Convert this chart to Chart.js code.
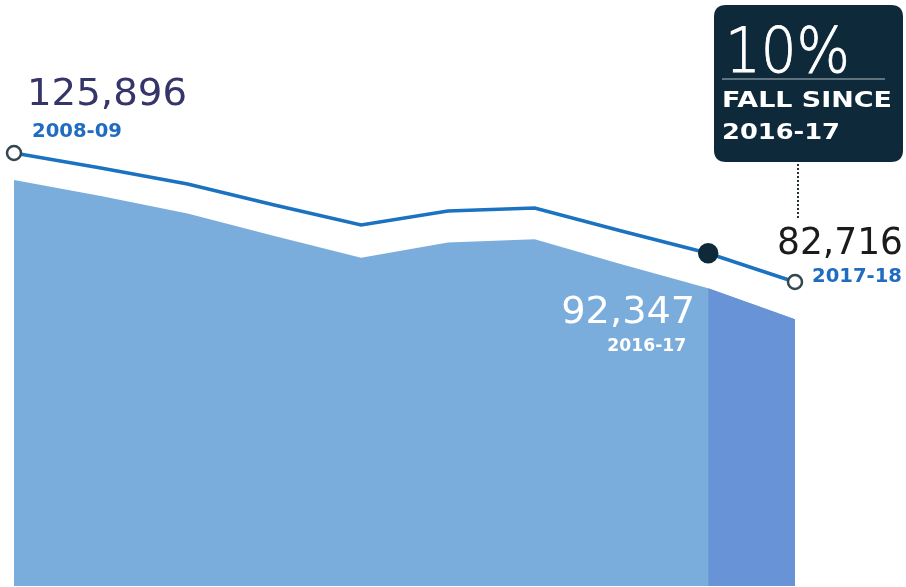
<!DOCTYPE html>
<html>
<head>
<meta charset="utf-8">
<script src="https://cdn.jsdelivr.net/npm/chart.js@4.4.1/dist/chart.umd.min.js"></script>
<style>
  html, body { margin: 0; padding: 0; background: #ffffff; }
  #wrap { width: 906px; height: 587px; position: relative; }
</style>
</head>
<body>
<div id="wrap"><canvas id="fallChart"></canvas></div>
<script>
// yearly totals
const years = ['2008-09', '2009-10', '2010-11', '2011-12', '2012-13', '2013-14', '2014-15', '2015-16', '2016-17', '2017-18'];
const totals = [125896, 120900, 115500, 108500, 101800, 106500, 107500, 99800, 92347, 82716];
const fallText = ['10%', 'FALL SINCE', '2016-17'];

const lineBlue = '#1b72c0';
const areaBlue = '#7aaddc';
const areaDark = '#6893d6';
const navy = '#0e2a3a';

const lastIdx = totals.length - 1;
const sinceIdx = years.indexOf('2016-17');
// only the last stretch, for the darker fill
const recent = totals.map((v, i) => i >= sinceIdx ? v : null);

function fmt(n) {
  return n.toLocaleString('en-US');
}

// draw text squeezed/stretched to a given width
function fitText(ctx, text, x, y, w) {
  const m = ctx.measureText(text).width;
  ctx.save();
  ctx.translate(x, y);
  ctx.scale(w / m, 1);
  ctx.fillText(text, 0, 0);
  ctx.restore();
}

function roundRect(ctx, x, y, w, h, r) {
  ctx.beginPath();
  ctx.moveTo(x + r, y);
  ctx.lineTo(x + w - r, y);
  ctx.quadraticCurveTo(x + w, y, x + w, y + r);
  ctx.lineTo(x + w, y + h - r);
  ctx.quadraticCurveTo(x + w, y + h, x + w - r, y + h);
  ctx.lineTo(x + r, y + h);
  ctx.quadraticCurveTo(x, y + h, x, y + h - r);
  ctx.lineTo(x, y + r);
  ctx.quadraticCurveTo(x, y, x + r, y);
  ctx.closePath();
}

const labelsPlugin = {
  id: 'labels',
  afterDatasetsDraw(chart) {
    const ctx = chart.ctx;
    const xs = chart.scales.x;
    const ys = chart.scales.y;
    const fx = xs.getPixelForValue(0), fy = ys.getPixelForValue(totals[0]);
    const lx = xs.getPixelForValue(lastIdx), ly = ys.getPixelForValue(totals[lastIdx]);
    const sx = xs.getPixelForValue(sinceIdx), sy = ys.getPixelForValue(totals[sinceIdx]);

    ctx.save();
    ctx.textBaseline = 'alphabetic';
    ctx.textAlign = 'left';

    // first year
    ctx.fillStyle = '#35356a';
    ctx.font = '38px "DejaVu Sans"';
    fitText(ctx, fmt(totals[0]), fx + 13, fy - 48, 160);
    ctx.fillStyle = '#1f6cc0';
    ctx.font = 'bold 19px "DejaVu Sans"';
    fitText(ctx, years[0], fx + 18, fy - 16, 90);

    // latest year
    ctx.fillStyle = '#1b1b1b';
    ctx.font = '37px "DejaVu Sans"';
    fitText(ctx, fmt(totals[lastIdx]), lx - 18, ly - 28, 126);
    ctx.fillStyle = '#1f6cc0';
    ctx.font = 'bold 20px "DejaVu Sans"';
    fitText(ctx, years[lastIdx], lx + 17, ly, 90);

    // 2016-17 inside the area
    ctx.fillStyle = '#ffffff';
    ctx.font = '37px "DejaVu Sans"';
    fitText(ctx, fmt(totals[sinceIdx]), sx - 147, sy + 70, 134);
    ctx.font = 'bold 17px "DejaVu Sans"';
    fitText(ctx, years[sinceIdx], sx - 101, sy + 98, 79);

    // callout box
    const bx = 714, by = 5, bw = 189, bh = 157;
    ctx.fillStyle = navy;
    roundRect(ctx, bx, by, bw, bh, 12);
    ctx.fill();

    ctx.fillStyle = '#ffffff';
    ctx.font = '200 62px "DejaVu Sans"';
    ctx.strokeStyle = '#ffffff';
    ctx.lineWidth = 0.9;
    const m = ctx.measureText(fallText[0]).width;
    ctx.save();
    ctx.translate(bx + 11, by + 67);
    ctx.scale(125 / m, 1);
    ctx.fillText(fallText[0], 0, 0);
    ctx.strokeText(fallText[0], 0, 0);
    ctx.restore();

    ctx.strokeStyle = '#7d8e99';
    ctx.lineWidth = 1.5;
    ctx.beginPath();
    ctx.moveTo(bx + 8, by + 74);
    ctx.lineTo(bx + 171, by + 74);
    ctx.stroke();

    ctx.font = 'bold 22px "DejaVu Sans"';
    fitText(ctx, fallText[1], bx + 8, by + 102, 170);
    fitText(ctx, fallText[2], bx + 8, by + 134, 118);

    // dotted leader down to the latest value
    ctx.strokeStyle = '#26323a';
    ctx.lineWidth = 2;
    ctx.setLineDash([2, 2]);
    ctx.beginPath();
    ctx.moveTo(lx + 3, by + bh + 2);
    ctx.lineTo(lx + 3, ly - 64);
    ctx.stroke();
    ctx.restore();
  }
};

const ctx = document.getElementById('fallChart');
new Chart(ctx, {
  type: 'line',
  data: {
    labels: years,
    datasets: [{
      // trend line
      data: totals,
      yAxisID: 'y',
      borderColor: lineBlue,
      borderWidth: 3.5,
      fill: false,
      clip: false,
      tension: 0,
      pointRadius: totals.map((v, i) => (i === 0 || i === lastIdx) ? 7 : (i === sinceIdx ? 9 : 0)),
      pointBackgroundColor: totals.map((v, i) => i === sinceIdx ? navy : '#ffffff'),
      pointBorderColor: totals.map((v, i) => i === sinceIdx ? navy : '#33474f'),
      pointBorderWidth: 2.5,
      order: 0
    }, {
      // darker shading for the latest year
      data: recent,
      yAxisID: 'yArea',
      borderWidth: 0,
      pointRadius: 0,
      fill: 'start',
      tension: 0,
      spanGaps: false,
      backgroundColor: areaDark,
      order: 1
    }, {
      // shaded area underneath
      data: totals,
      yAxisID: 'yArea',
      borderWidth: 0,
      pointRadius: 0,
      fill: 'start',
      tension: 0,
      backgroundColor: areaBlue,
      order: 2
    }]
  },
  options: {
    responsive: true,
    maintainAspectRatio: false,
    animation: false,
    devicePixelRatio: 1,
    layout: { autoPadding: false, padding: { left: 14, right: 111, top: 0, bottom: 1 } },
    plugins: {
      legend: { display: false },
      tooltip: { enabled: false }
    },
    scales: {
      x: { display: false, offset: false },
      y: { display: false, min: -19041, max: 177109 },
      yArea: { display: false, min: 0, max: 181700 }
    }
  },
  plugins: [labelsPlugin]
});
</script>
</body>
</html>
